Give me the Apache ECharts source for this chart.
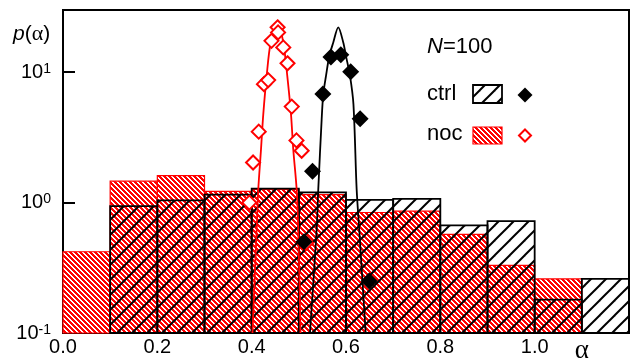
<!DOCTYPE html>
<html>
<head>
<meta charset="utf-8">
<script src="https://cdn.jsdelivr.net/npm/echarts@6/dist/echarts.min.js"></script>
<style>
html,body{margin:0;padding:0;background:#fff;}
#c{width:644px;height:358px;}
</style>
</head>
<body>
<div id="c"></div>
<script>
// ---- data ----
const binLeft  = [0.0, 0.1, 0.2, 0.3, 0.4, 0.5, 0.6, 0.7, 0.8, 0.9, 1.0, 1.1];
const binWidth = 0.1;
const nocHist  = [0.42, 1.46, 1.61, 1.22, 1.26, 1.15, 0.84, 0.86, 0.57, 0.33, 0.26, null];
const ctrlHist = [null, 0.94, 1.04, 1.15, 1.28, 1.20, 1.05, 1.07, 0.67, 0.72, 0.18, 0.26];

const ctrlPtsX = [0.511, 0.529, 0.551, 0.568, 0.589, 0.610, 0.630, 0.649];
const ctrlPtsY = [0.50, 1.74, 6.8, 13.1, 13.6, 10.1, 4.4, 0.25];

const nocPtsX = [0.395, 0.403, 0.415, 0.426, 0.435, 0.442, 0.455, 0.456, 0.467, 0.476, 0.485, 0.495, 0.506, 0.515];
const nocPtsY = [1.0, 2.03, 3.5, 8.1, 8.7, 17.4, 22.1, 20.2, 15.5, 11.7, 5.45, 3.0, 2.5, 0.49];

const ctrlFitX = [0.5236, 0.5378, 0.5412, 0.5484, 0.5518, 0.5576, 0.5646, 0.5730, 0.5836, 0.5942, 0.6000, 0.6085, 0.6158, 0.6226, 0.6281, 0.6417];
const ctrlFitY = [0.1, 0.62, 1.26, 4.35, 6.77, 9.38, 13.3, 16.9, 22.1, 16.9, 13.3, 9.38, 5.67, 1.26, 0.62, 0.1];

const nocFitX = [0.4017, 0.4106, 0.4140, 0.4198, 0.4246, 0.4318, 0.4403, 0.4547, 0.4670, 0.4755, 0.4834, 0.4882, 0.4954, 0.4988, 0.5035];
const nocFitY = [0.1, 0.62, 1.26, 2.56, 4.75, 9.38, 16.9, 24.3, 16.9, 9.38, 4.75, 2.56, 1.26, 0.62, 0.1];

const xTickLabels = ['0.0', '0.2', '0.4', '0.6', '0.8', '1.0'];
const xAxisName = 'α';

// ---- patterns ----
function redPattern() {
  const n = 5;
  const c = document.createElement('canvas');
  c.width = n; c.height = n;
  const ctx = c.getContext('2d');
  for (let x = 0; x < n; x++) for (let y = 0; y < n; y++) {
    ctx.fillStyle = (((x - y) % n + n) % n) < 2 ? '#ffffff' : '#ff0000';
    ctx.fillRect(x, y, 1, 1);
  }
  return c;
}
function blackPattern() {
  const s = 15;
  const c = document.createElement('canvas');
  c.width = s; c.height = s;
  const ctx = c.getContext('2d');
  ctx.strokeStyle = '#000';
  ctx.lineWidth = 2;
  [0, s, 2 * s].forEach(k => {
    ctx.beginPath();
    ctx.moveTo(k - 30, 30);
    ctx.lineTo(k + 30, -30);
    ctx.stroke();
  });
  return c;
}
const redPat = { image: redPattern(), repeat: 'repeat' };
const blkPat = { image: blackPattern(), repeat: 'repeat' };

function histData(vals) {
  const out = [];
  vals.forEach((v, i) => { if (v != null) out.push([binLeft[i], binLeft[i] + binWidth, v]); });
  return out;
}
function makeRender(fill, stroke, lw) {
  return function (params, api) {
    const p0 = api.coord([api.value(0), api.value(2)]);
    const p1 = api.coord([api.value(1), 0.1]);
    return {
      type: 'rect',
      shape: { x: p0[0], y: p0[1], width: p1[0] - p0[0], height: p1[1] - p0[1] },
      style: { fill: fill, stroke: stroke, lineWidth: lw }
    };
  };
}
const zip = (a, b) => a.map((v, i) => [v, b[i]]);

const chart = echarts.init(document.getElementById('c'));
const FS = 'Liberation Sans, Arial, Helvetica, sans-serif';

const option = {
  animation: false,
  backgroundColor: '#fff',
  grid: { left: 63, top: 10, right: 15, bottom: 25, outerBoundsMode: 'none', containLabel: false,
          show: true, borderColor: '#000', borderWidth: 2, backgroundColor: 'transparent' },
  xAxis: {
    type: 'value', min: 0, max: 1.2, interval: 0.1,
    axisLine: { show: true, lineStyle: { color: '#000', width: 2 } },
    axisTick: { show: false },
    splitLine: { show: false },
    axisLabel: {
      margin: 4, color: '#000', fontSize: 20, fontFamily: FS,
      showMaxLabel: false,
      formatter: function (v) {
        const i = Math.round(v * 10);
        if (i === 11) return '{a|' + xAxisName + '}';
        if (i % 2 === 0 && i / 2 < xTickLabels.length) return xTickLabels[i / 2];
        return '';
      },
      rich: { a: { fontSize: 27, fontFamily: 'Liberation Serif, DejaVu Serif, serif', color: '#000', padding: [0, 0, 8, 0] } }
    }
  },
  yAxis: {
    type: 'log', logBase: 10, min: 0.1, max: 30,
    axisLine: { show: true, lineStyle: { color: '#000', width: 2 } },
    axisTick: { show: true, inside: true, length: 12, lineStyle: { color: '#000', width: 2 } },
    minorTick: { show: false },
    splitLine: { show: false },
    axisLabel: {
      margin: 12, color: '#000', fontSize: 20, fontFamily: FS,
      showMaxLabel: false,
      formatter: function (v) {
        const l = Math.log10(v);
        const e = Math.round(l);
        if (Math.abs(l - e) > 1e-6) return '';
        return '{b|10}{s|' + e + '}';
      },
      rich: {
        b: { fontSize: 20, fontFamily: FS, color: '#000', verticalAlign: 'bottom', lineHeight: 20 },
        s: { fontSize: 14, fontFamily: FS, color: '#000', verticalAlign: 'top', lineHeight: 14, padding: [0, 0, 10, 0] }
      }
    }
  },
  graphic: [
    { type: 'text', left: 13, top: 23, style: { text: '{i|p}{n|(}{g|α}{n|)}', rich: {
      i: { fontSize: 21, fontStyle: 'italic', fontFamily: FS, fill: '#000' },
      n: { fontSize: 21, fontFamily: FS, fill: '#000' },
      g: { fontSize: 22, fontFamily: 'Liberation Serif, DejaVu Serif, serif', fill: '#000' } } } },
    { type: 'text', left: 427, top: 36, style: { text: '{i|N}{n|=100}', rich: {
      i: { fontSize: 22, fontStyle: 'italic', fontFamily: FS, fill: '#000' },
      n: { fontSize: 22, fontFamily: FS, fill: '#000' } } } },
    { type: 'text', left: 427, top: 83, style: { text: 'ctrl', fontSize: 22, fontFamily: FS, fill: '#000' } },
    { type: 'text', left: 427, top: 123, style: { text: 'noc', fontSize: 22, fontFamily: FS, fill: '#000' } },
    { type: 'rect', shape: { x: 473, y: 85, width: 29, height: 18 }, style: { fill: blkPat, stroke: '#000', lineWidth: 1.8 } },
    { type: 'rect', shape: { x: 473, y: 127, width: 29, height: 17 }, style: { fill: redPat, stroke: '#ff0000', lineWidth: 1.2 } },
    { type: 'polygon', shape: { points: [[525, 87.5], [532.5, 95], [525, 102.5], [517.5, 95]] }, style: { fill: '#000' } },
    { type: 'polygon', shape: { points: [[525, 129.5], [531, 135.5], [525, 141.5], [519, 135.5]] }, style: { fill: '#fff', stroke: '#ff0000', lineWidth: 2 } }
  ],
  series: [
    { type: 'custom', name: 'noc hist', z: 1, renderItem: makeRender(redPat, '#ff0000', 1.2),
      encode: { x: [0, 1], y: 2 }, data: histData(nocHist) },
    { type: 'custom', name: 'ctrl hist', z: 2, renderItem: makeRender(blkPat, '#000', 1.8),
      encode: { x: [0, 1], y: 2 }, data: histData(ctrlHist) },
    { type: 'line', name: 'noc fit', z: 3, data: zip(nocFitX, nocFitY), smooth: 0.3, showSymbol: false,
      lineStyle: { color: '#ff0000', width: 1.8 }, clip: true },
    { type: 'line', name: 'ctrl fit', z: 3, data: zip(ctrlFitX, ctrlFitY), smooth: 0.3, showSymbol: false,
      lineStyle: { color: '#000', width: 1.8 }, clip: true },
    { type: 'scatter', name: 'noc', z: 4, data: zip(nocPtsX, nocPtsY), symbol: 'diamond', symbolSize: 14,
      itemStyle: { color: '#fff', borderColor: '#ff0000', borderWidth: 2, opacity: 1 } },
    { type: 'scatter', name: 'ctrl', z: 5, data: zip(ctrlPtsX, ctrlPtsY), symbol: 'diamond', symbolSize: 17,
      itemStyle: { color: '#000', opacity: 1 } }
  ]
};
chart.setOption(option);
</script>
</body>
</html>
